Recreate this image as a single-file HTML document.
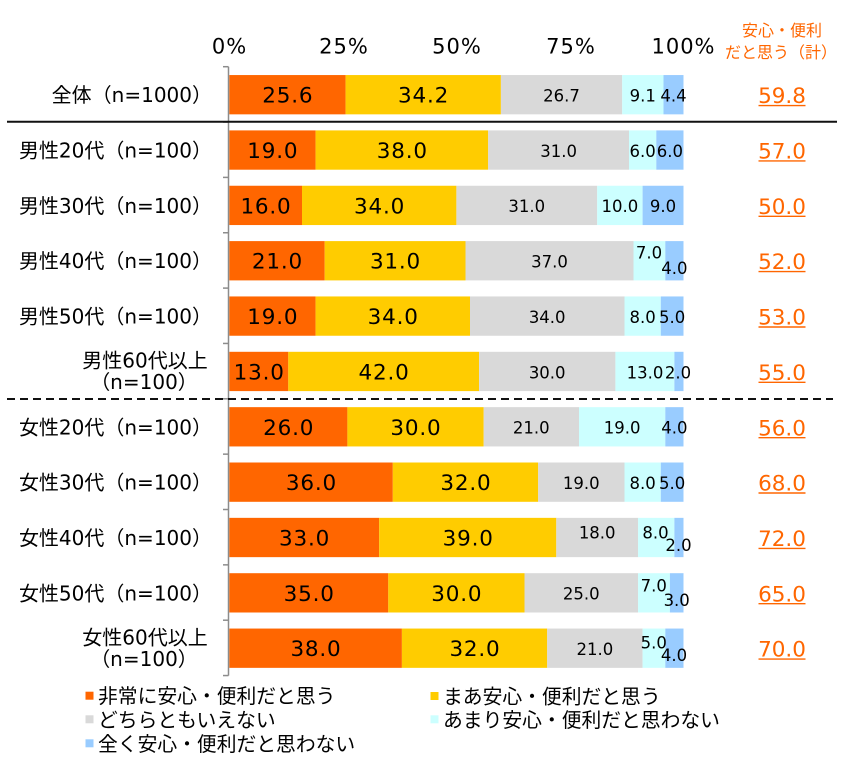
<!DOCTYPE html>
<html><head><meta charset="utf-8"><style>
html,body{margin:0;padding:0;background:#fff;}
svg{display:block;}
text{font-family:"DejaVu Sans","Noto Sans CJK JP",sans-serif;fill:#000;}
.cat text{font-size:20px;}
.big text{font-size:21.5px;letter-spacing:0.8px;}
.sm text{font-size:16.5px;}
.tick text{font-size:21px;letter-spacing:1px;}
.val text{font-size:21.5px;fill:#FF6600;}
text.hdr{font-size:16px;fill:#FF6600;font-family:"Noto Sans CJK JP",sans-serif;}
.leg text{font-size:19.8px;}
</style></head><body>
<svg width="842" height="761" viewBox="0 0 842 761" xmlns="http://www.w3.org/2000/svg">
<g class="tick" text-anchor="middle">
<text x="229.5" y="53.3">0%</text>
<text x="344" y="53.3">25%</text>
<text x="457" y="53.3">50%</text>
<text x="571" y="53.3">75%</text>
<text x="683.5" y="53.3">100%</text>
</g>
<text class="hdr" x="782" y="36" text-anchor="middle">安心・便利</text>
<text class="hdr" x="781" y="58" text-anchor="middle">だと思う（計）</text>

<g id="bars">
<rect x="229.3" y="75.05" width="116.3" height="39.3" fill="#FF6600"/>
<rect x="345.6" y="75.05" width="155.3" height="39.3" fill="#FFCC00"/>
<rect x="500.9" y="75.05" width="121.3" height="39.3" fill="#D9D9D9"/>
<rect x="622.2" y="75.05" width="41.3" height="39.3" fill="#CCFFFF"/>
<rect x="663.5" y="75.05" width="20" height="39.3" fill="#99CCFF"/>
<rect x="229.3" y="130.4" width="86.3" height="39.3" fill="#FF6600"/>
<rect x="315.6" y="130.4" width="172.6" height="39.3" fill="#FFCC00"/>
<rect x="488.2" y="130.4" width="140.8" height="39.3" fill="#D9D9D9"/>
<rect x="629" y="130.4" width="27.3" height="39.3" fill="#CCFFFF"/>
<rect x="656.3" y="130.4" width="27.2" height="39.3" fill="#99CCFF"/>
<rect x="229.3" y="185.75" width="72.7" height="39.3" fill="#FF6600"/>
<rect x="302" y="185.75" width="154.4" height="39.3" fill="#FFCC00"/>
<rect x="456.4" y="185.75" width="140.8" height="39.3" fill="#D9D9D9"/>
<rect x="597.2" y="185.75" width="45.4" height="39.3" fill="#CCFFFF"/>
<rect x="642.6" y="185.75" width="40.9" height="39.3" fill="#99CCFF"/>
<rect x="229.3" y="241.1" width="95.4" height="39.3" fill="#FF6600"/>
<rect x="324.7" y="241.1" width="140.8" height="39.3" fill="#FFCC00"/>
<rect x="465.5" y="241.1" width="168" height="39.3" fill="#D9D9D9"/>
<rect x="633.5" y="241.1" width="31.8" height="39.3" fill="#CCFFFF"/>
<rect x="665.3" y="241.1" width="18.2" height="39.3" fill="#99CCFF"/>
<rect x="229.3" y="296.45" width="86.3" height="39.3" fill="#FF6600"/>
<rect x="315.6" y="296.45" width="154.4" height="39.3" fill="#FFCC00"/>
<rect x="470" y="296.45" width="154.5" height="39.3" fill="#D9D9D9"/>
<rect x="624.5" y="296.45" width="36.3" height="39.3" fill="#CCFFFF"/>
<rect x="660.8" y="296.45" width="22.7" height="39.3" fill="#99CCFF"/>
<rect x="229.3" y="351.8" width="59" height="39.3" fill="#FF6600"/>
<rect x="288.3" y="351.8" width="190.8" height="39.3" fill="#FFCC00"/>
<rect x="479.1" y="351.8" width="136.3" height="39.3" fill="#D9D9D9"/>
<rect x="615.4" y="351.8" width="59" height="39.3" fill="#CCFFFF"/>
<rect x="674.4" y="351.8" width="9.1" height="39.3" fill="#99CCFF"/>
<rect x="229.3" y="407.15" width="118.1" height="39.3" fill="#FF6600"/>
<rect x="347.4" y="407.15" width="136.3" height="39.3" fill="#FFCC00"/>
<rect x="483.7" y="407.15" width="95.3" height="39.3" fill="#D9D9D9"/>
<rect x="579" y="407.15" width="86.3" height="39.3" fill="#CCFFFF"/>
<rect x="665.3" y="407.15" width="18.2" height="39.3" fill="#99CCFF"/>
<rect x="229.3" y="462.5" width="163.5" height="39.3" fill="#FF6600"/>
<rect x="392.8" y="462.5" width="145.4" height="39.3" fill="#FFCC00"/>
<rect x="538.2" y="462.5" width="86.3" height="39.3" fill="#D9D9D9"/>
<rect x="624.5" y="462.5" width="36.3" height="39.3" fill="#CCFFFF"/>
<rect x="660.8" y="462.5" width="22.7" height="39.3" fill="#99CCFF"/>
<rect x="229.3" y="517.85" width="149.9" height="39.3" fill="#FF6600"/>
<rect x="379.2" y="517.85" width="177.1" height="39.3" fill="#FFCC00"/>
<rect x="556.3" y="517.85" width="81.8" height="39.3" fill="#D9D9D9"/>
<rect x="638.1" y="517.85" width="36.3" height="39.3" fill="#CCFFFF"/>
<rect x="674.4" y="517.85" width="9.1" height="39.3" fill="#99CCFF"/>
<rect x="229.3" y="573.2" width="159" height="39.3" fill="#FF6600"/>
<rect x="388.3" y="573.2" width="136.2" height="39.3" fill="#FFCC00"/>
<rect x="524.5" y="573.2" width="113.6" height="39.3" fill="#D9D9D9"/>
<rect x="638.1" y="573.2" width="31.8" height="39.3" fill="#CCFFFF"/>
<rect x="669.9" y="573.2" width="13.6" height="39.3" fill="#99CCFF"/>
<rect x="229.3" y="628.55" width="172.6" height="39.3" fill="#FF6600"/>
<rect x="401.9" y="628.55" width="145.3" height="39.3" fill="#FFCC00"/>
<rect x="547.2" y="628.55" width="95.4" height="39.3" fill="#D9D9D9"/>
<rect x="642.6" y="628.55" width="22.7" height="39.3" fill="#CCFFFF"/>
<rect x="665.3" y="628.55" width="18.2" height="39.3" fill="#99CCFF"/>
</g>

<g stroke="#8C8C8C" stroke-width="1.5" fill="none">
<line x1="228.5" y1="66.7" x2="228.5" y2="675.6"/>
<line x1="223" y1="66.7" x2="228.5" y2="66.7"/>
<line x1="223" y1="122.05" x2="228.5" y2="122.05"/>
<line x1="223" y1="177.4" x2="228.5" y2="177.4"/>
<line x1="223" y1="232.75" x2="228.5" y2="232.75"/>
<line x1="223" y1="288.1" x2="228.5" y2="288.1"/>
<line x1="223" y1="343.45" x2="228.5" y2="343.45"/>
<line x1="223" y1="398.8" x2="228.5" y2="398.8"/>
<line x1="223" y1="454.15" x2="228.5" y2="454.15"/>
<line x1="223" y1="509.5" x2="228.5" y2="509.5"/>
<line x1="223" y1="564.85" x2="228.5" y2="564.85"/>
<line x1="223" y1="620.2" x2="228.5" y2="620.2"/>
<line x1="223" y1="675.55" x2="228.5" y2="675.55"/>
</g>

<line x1="7" y1="121.7" x2="837" y2="121.7" stroke="#111" stroke-width="2"/>
<line x1="7" y1="399" x2="833" y2="399" stroke="#111" stroke-width="2" stroke-dasharray="8 5"/>

<g class="cat" text-anchor="end">
<text x="212" y="102.2">全体（n=1000）</text>
<text x="212" y="157.5">男性20代（n=100）</text>
<text x="212" y="212.9">男性30代（n=100）</text>
<text x="212" y="268.2">男性40代（n=100）</text>
<text x="212" y="323.6">男性50代（n=100）</text>
<text x="212" y="434.3">女性20代（n=100）</text>
<text x="212" y="489.6">女性30代（n=100）</text>
<text x="212" y="545">女性40代（n=100）</text>
<text x="212" y="600.3">女性50代（n=100）</text>
</g>
<g class="cat" text-anchor="middle">
<text x="145" y="367.5">男性60代以上</text>
<text x="144" y="389.2">（n=100）</text>
<text x="145" y="644.3">女性60代以上</text>
<text x="144" y="666">（n=100）</text>
</g>

<g class="big" text-anchor="middle">
<text x="287.8" y="102.7">25.6</text><text x="423.6" y="102.7">34.2</text>
<text x="272.8" y="158">19.0</text><text x="402.3" y="158">38.0</text>
<text x="266" y="213.4">16.0</text><text x="379.6" y="213.4">34.0</text>
<text x="277.4" y="268.7">21.0</text><text x="395.5" y="268.7">31.0</text>
<text x="272.8" y="324.1">19.0</text><text x="393.2" y="324.1">34.0</text>
<text x="259.2" y="379.4">13.0</text><text x="384.1" y="379.4">42.0</text>
<text x="288.7" y="434.8">26.0</text><text x="415.9" y="434.8">30.0</text>
<text x="311.4" y="490.1">36.0</text><text x="465.9" y="490.1">32.0</text>
<text x="304.6" y="545.5">33.0</text><text x="468.2" y="545.5">39.0</text>
<text x="309.2" y="600.8">35.0</text><text x="456.8" y="600.8">30.0</text>
<text x="316" y="656.2">38.0</text><text x="475" y="656.2">32.0</text>
</g>

<g class="sm" text-anchor="middle">
<text x="561.5" y="101.5">26.7</text><text x="642.8" y="101.5">9.1</text><text x="673.5" y="101.5">4.4</text>
<text x="558.6" y="156.9">31.0</text><text x="642.6" y="156.9">6.0</text><text x="669.9" y="156.9">6.0</text>
<text x="526.8" y="212.2">31.0</text><text x="619.9" y="212.2">10.0</text><text x="663" y="212.2">9.0</text>
<text x="549.5" y="267.6">37.0</text><text x="649" y="258.6">7.0</text><text x="674.4" y="274.1">4.0</text>
<text x="547.2" y="322.9">34.0</text><text x="642.6" y="322.9">8.0</text><text x="672.1" y="322.9">5.0</text>
<text x="547.2" y="378.3">30.0</text><text x="645" y="378.3">13.0</text><text x="678" y="378.3">2.0</text>
<text x="531.3" y="433.6">21.0</text><text x="622.1" y="433.6">19.0</text><text x="674.4" y="433.6">4.0</text>
<text x="581.3" y="489">19.0</text><text x="642.6" y="489">8.0</text><text x="672.1" y="489">5.0</text>
<text x="597.2" y="538.3">18.0</text><text x="655.5" y="538.3">8.0</text><text x="678.5" y="550.8">2.0</text>
<text x="581.3" y="599.7">25.0</text><text x="653.8" y="591.7">7.0</text><text x="676.7" y="606.2">3.0</text>
<text x="594.9" y="655">21.0</text><text x="653.8" y="648.5">5.0</text><text x="674" y="661">4.0</text>
</g>

<g class="val" text-anchor="middle">
<text x="782" y="103.2">59.8</text>
<text x="782" y="158.5">57.0</text>
<text x="782" y="213.9">50.0</text>
<text x="782" y="269.2">52.0</text>
<text x="782" y="324.6">53.0</text>
<text x="782" y="379.9">55.0</text>
<text x="782" y="435.3">56.0</text>
<text x="782" y="490.6">68.0</text>
<text x="782" y="546">72.0</text>
<text x="782" y="601.3">65.0</text>
<text x="782" y="656.7">70.0</text>
</g>
<g stroke="#FF6600" stroke-width="1.4">
<line x1="758.5" y1="105.6" x2="805.5" y2="105.6"/>
<line x1="758.5" y1="160.9" x2="805.5" y2="160.9"/>
<line x1="758.5" y1="216.3" x2="805.5" y2="216.3"/>
<line x1="758.5" y1="271.6" x2="805.5" y2="271.6"/>
<line x1="758.5" y1="327" x2="805.5" y2="327"/>
<line x1="758.5" y1="382.3" x2="805.5" y2="382.3"/>
<line x1="758.5" y1="437.7" x2="805.5" y2="437.7"/>
<line x1="758.5" y1="493" x2="805.5" y2="493"/>
<line x1="758.5" y1="548.4" x2="805.5" y2="548.4"/>
<line x1="758.5" y1="603.7" x2="805.5" y2="603.7"/>
<line x1="758.5" y1="659.1" x2="805.5" y2="659.1"/>
</g>

<rect x="85.5" y="691.7" width="8" height="8" fill="#FF6600"/>
<rect x="85.5" y="715.3" width="8" height="8" fill="#D9D9D9"/>
<rect x="85.5" y="739.3" width="8" height="8" fill="#99CCFF"/>
<rect x="430.5" y="692" width="8" height="8" fill="#FFCC00"/>
<rect x="430.5" y="715.3" width="8" height="8" fill="#CCFFFF"/>
<g class="leg">
<text x="98" y="703.2">非常に安心・便利だと思う</text>
<text x="98" y="726.8">どちらともいえない</text>
<text x="98" y="750.8">全く安心・便利だと思わない</text>
<text x="443" y="703.5">まあ安心・便利だと思う</text>
<text x="443" y="726.8">あまり安心・便利だと思わない</text>
</g>
</svg>
</body></html>
